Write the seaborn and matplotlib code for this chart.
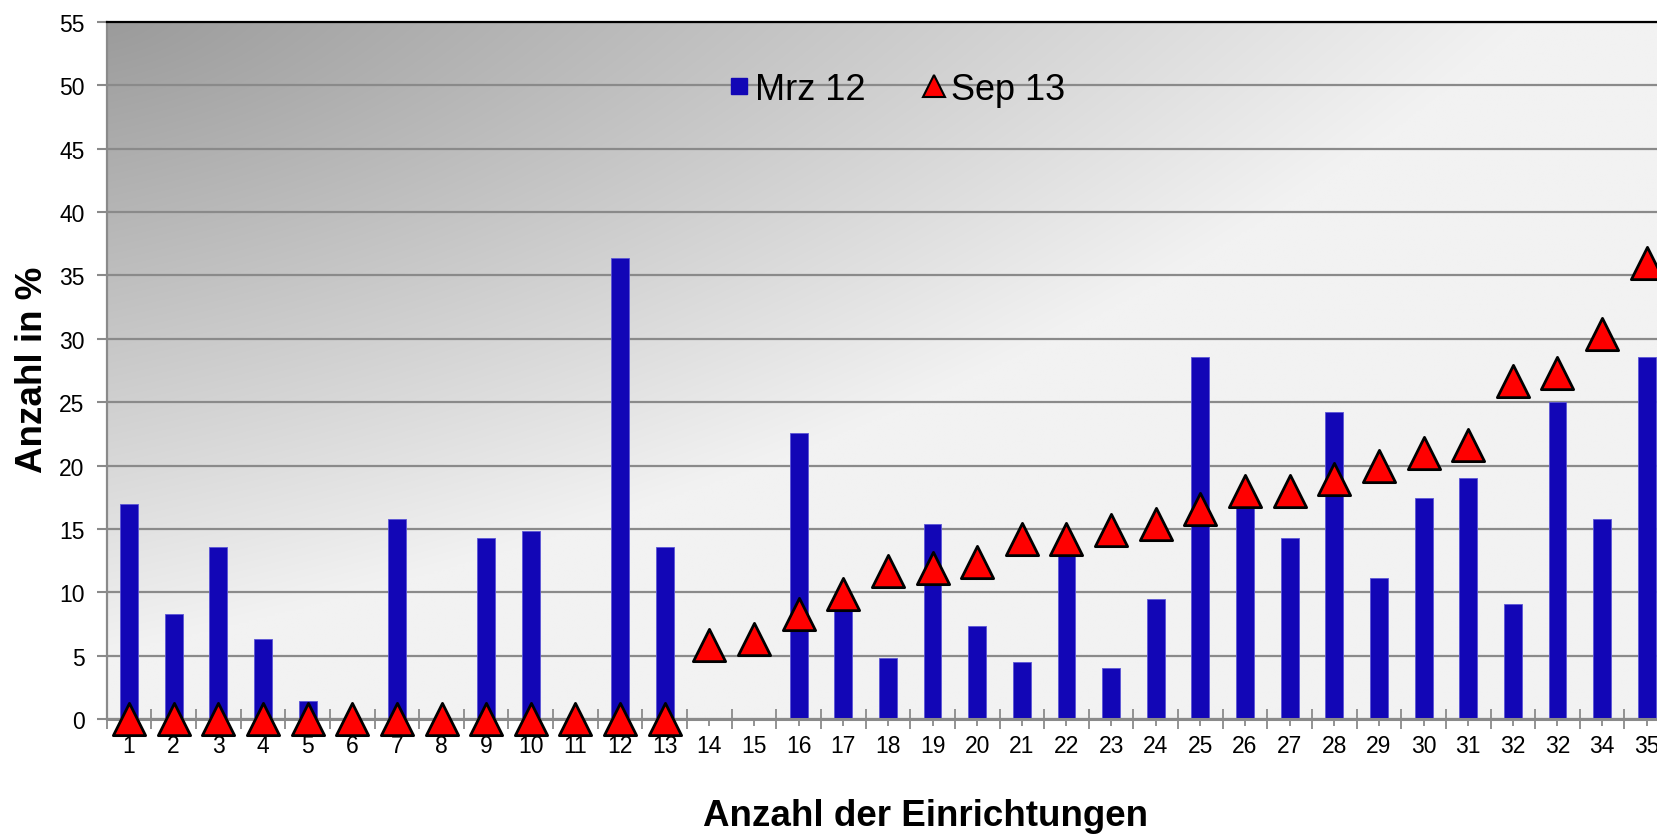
import numpy as np
import pandas as pd
import matplotlib
matplotlib.use("Agg")
import matplotlib.pyplot as plt
from matplotlib.lines import Line2D
import seaborn as sns

# ---- data ----
x_labels = [str(i) for i in range(1, 32)] + ["32", "32", "34", "35"]
mrz12 = [17.0, 8.3, 13.6, 6.3, 1.4, 0, 15.8, 0, 14.3, 14.8, 0, 36.4, 13.6, 0, 0,
         22.6, 9.5, 4.8, 15.4, 7.3, 4.5, 13.4, 4.0, 9.5, 28.6, 16.7, 14.3, 24.2,
         11.1, 17.4, 19.0, 9.1, 25.0, 15.8, 28.6]
sep13 = [0, 0, 0, 0, 0, 0, 0, 0, 0, 0, 0, 0, 0, 5.8, 6.3, 8.3, 9.9, 11.7, 11.9,
         12.4, 14.2, 14.2, 14.9, 15.4, 16.6, 18.0, 18.0, 18.9, 20.0, 21.0, 21.6,
         26.7, 27.3, 30.4, 36.0]
series_names = ["Mrz 12", "Sep 13"]
y_ticks = list(range(0, 56, 5))

BAR_COLOR = "#1206b6"
TRI_COLOR = "#ff0000"

sns.set_style("white")
plt.rcParams["font.family"] = ["Liberation Sans", "DejaVu Sans"]
plt.rcParams["text.color"] = "black"
plt.rcParams["xtick.labelcolor"] = "black"
plt.rcParams["ytick.labelcolor"] = "black"

df = pd.DataFrame({"pos": np.arange(len(x_labels)), "mrz": mrz12, "sep": sep13})

fig = plt.figure(figsize=(16.57, 8.37), dpi=100)
ax = fig.add_axes([0.0644, 0.1398, 0.9429, 0.8327])

# gradient background
H, W = 300, 600
u = np.linspace(0, 1, W)[None, :]
v = np.linspace(0, 1, H)[:, None]
t = 0.5 * (u + v) + 0.5 * np.sqrt(u ** 2 + v ** 2)
val = np.clip(155 + 96 * t, 0, 242) / 255.0
img = np.dstack([val, val, val])
ax.imshow(img, extent=[0, 1, 0, 1], transform=ax.transAxes, aspect="auto",
          zorder=0, interpolation="bilinear")

sns.barplot(data=df, x="pos", y="mrz", color=BAR_COLOR, saturation=1, width=0.4,
            edgecolor="#5b55d6", linewidth=0.6, ax=ax, zorder=2)
sns.scatterplot(data=df, x="pos", y="sep", marker="^", s=540, color=TRI_COLOR,
                edgecolor="black", linewidth=2, ax=ax, zorder=5, clip_on=False,
                legend=False)

ax.set_xlim(-0.5, len(x_labels) - 0.5)
ax.set_ylim(0, 55)
ax.set_yticks(y_ticks)
ax.set_yticklabels([str(t) for t in y_ticks], fontsize=16.5, color="black")
ax.set_xticks(np.arange(len(x_labels)))
ax.set_xticklabels(x_labels, fontsize=16.5, color="black")
ax.set_xticks(np.arange(len(x_labels) + 1) - 0.5, minor=True)
ax.set_xlabel("")
ax.set_ylabel("")

ax.set_axisbelow(True)
ax.grid(axis="y", color="#8a8a8a", linewidth=1.6, zorder=0.5)
ax.grid(axis="x", visible=False)
ax.spines["right"].set_visible(False)
ax.spines["top"].set_color("black")
ax.spines["top"].set_linewidth(1.6)
ax.spines["left"].set_color("#8a8a8a")
ax.spines["left"].set_linewidth(1.6)
ax.spines["bottom"].set_color("#8a8a8a")
ax.spines["bottom"].set_linewidth(2.2)
ax.spines["bottom"].set_zorder(4)

ax.tick_params(axis="y", which="major", direction="out", length=7, width=1.5,
               color="#8a8a8a", pad=9, left=True)
ax.tick_params(axis="x", which="major", direction="out", length=5, width=1.3,
               color="#8a8a8a", pad=6, bottom=True)
ax.tick_params(axis="x", which="minor", direction="inout", length=14, width=1.3,
               color="#8a8a8a", bottom=True)

# legend
handles = [
    Line2D([], [], linestyle="none", marker="s", markersize=12,
           markerfacecolor=BAR_COLOR, markeredgecolor=BAR_COLOR),
    Line2D([], [], linestyle="none", marker="^", markersize=16,
           markerfacecolor=TRI_COLOR, markeredgecolor="black", markeredgewidth=1.5),
]
leg = fig.legend(handles, series_names, loc="center", bbox_to_anchor=(0.541, 0.892),
                 ncol=2, frameon=False, fontsize=26, handlelength=0.6,
                 handletextpad=0.15, columnspacing=1.6)
for txt in leg.get_texts():
    txt.set_color("black")

fig.text(0.0195, 0.558, "Anzahl in %", rotation=90, ha="center", va="center",
         fontsize=26.5, fontweight="bold", color="black")
fig.text(0.5587, 0.024, "Anzahl der Einrichtungen", ha="center", va="center",
         fontsize=26.5, fontweight="bold", color="black")

fig.savefig("out.png", dpi=100)
